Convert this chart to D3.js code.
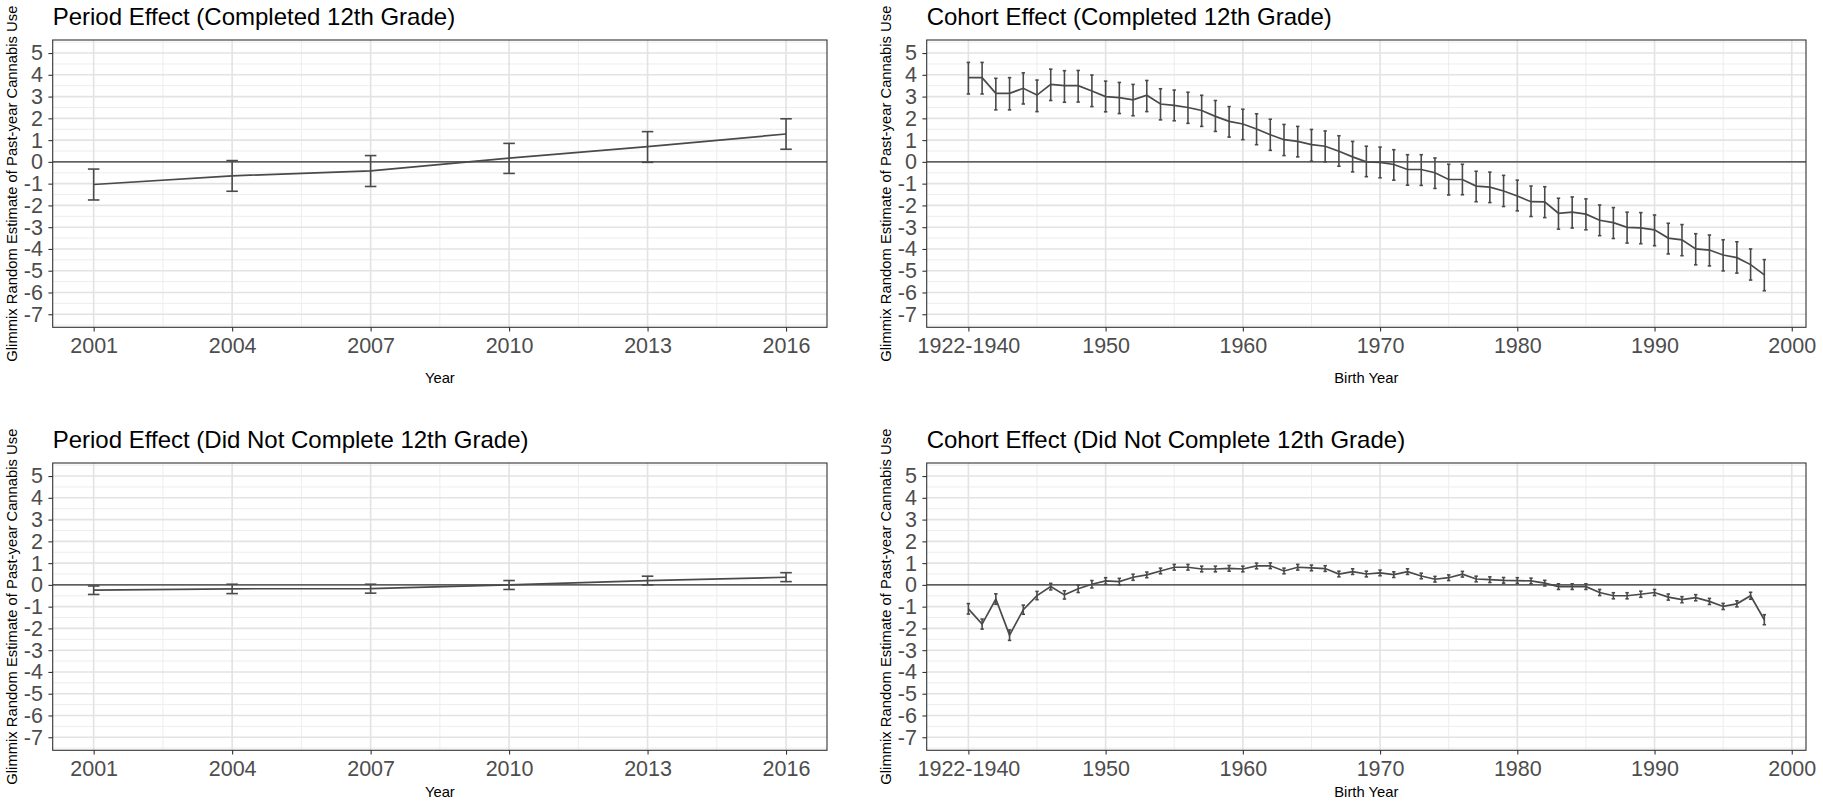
<!DOCTYPE html>
<html><head><meta charset="utf-8">
<script src="https://cdn.jsdelivr.net/npm/d3@7"></script>
<style>
body{margin:0;background:#fff}
svg{display:block}
text{font-family:"Liberation Sans",Arial,Helvetica,sans-serif}
</style>
</head><body>
<svg id="chart" width="1823" height="803"></svg>
<script>
// ---------- DATA ----------
const periodYears = [2001, 2004, 2007, 2010, 2013, 2016];
const periodTickLabels = ["2001", "2004", "2007", "2010", "2013", "2016"];

const periodCompEst = [-1.04, -0.64, -0.41, 0.17, 0.70, 1.28];
const periodCompLo  = [-1.75, -1.35, -1.13, -0.53, -0.02, 0.58];
const periodCompHi  = [-0.33, 0.06, 0.29, 0.85, 1.39, 1.98];

const periodNoEst = [-0.24, -0.18, -0.17, 0.00, 0.20, 0.35];
const periodNoLo  = [-0.44, -0.40, -0.38, -0.21, 0.00, 0.15];
const periodNoHi  = [-0.05, 0.03, 0.03, 0.20, 0.40, 0.56];

const cohortYears = [1940,1941,1942,1943,1944,1945,1946,1947,1948,1949,
  1950,1951,1952,1953,1954,1955,1956,1957,1958,1959,
  1960,1961,1962,1963,1964,1965,1966,1967,1968,1969,
  1970,1971,1972,1973,1974,1975,1976,1977,1978,1979,
  1980,1981,1982,1983,1984,1985,1986,1987,1988,1989,
  1990,1991,1992,1993,1994,1995,1996,1997,1998];
const cohortTicks = [1940, 1950, 1960, 1970, 1980, 1990, 2000];
const cohortTickLabels = ["1922-1940", "1950", "1960", "1970", "1980", "1990", "2000"];

const cohortCompEst = [3.87,3.87,3.15,3.15,3.38,3.07,3.56,3.50,3.50,3.26,
  3.00,2.95,2.85,3.06,2.66,2.60,2.50,2.36,2.09,1.86,
  1.74,1.51,1.25,1.02,0.94,0.79,0.72,0.49,0.23,0.00,
  -0.02,-0.12,-0.35,-0.35,-0.50,-0.81,-0.81,-1.11,-1.16,-1.34,
  -1.57,-1.83,-1.84,-2.36,-2.31,-2.40,-2.68,-2.79,-3.01,-3.03,
  -3.12,-3.50,-3.58,-4.00,-4.05,-4.28,-4.40,-4.72,-5.19];
const cohortCompLo = [3.12,3.12,2.39,2.39,2.66,2.31,2.82,2.74,2.75,2.54,
  2.30,2.22,2.12,2.31,1.93,1.89,1.77,1.63,1.40,1.14,
  1.02,0.79,0.53,0.29,0.23,0.03,0.00,-0.20,-0.46,-0.68,
  -0.73,-0.84,-1.07,-1.08,-1.22,-1.52,-1.51,-1.83,-1.87,-2.05,
  -2.25,-2.51,-2.56,-3.09,-3.04,-3.12,-3.39,-3.52,-3.73,-3.76,
  -3.85,-4.23,-4.31,-4.73,-4.78,-5.01,-5.11,-5.43,-5.92];
const cohortCompHi = [4.57,4.57,3.84,3.87,4.09,3.76,4.26,4.19,4.20,3.99,
  3.71,3.65,3.56,3.74,3.36,3.30,3.20,3.06,2.82,2.54,
  2.42,2.21,1.96,1.72,1.63,1.49,1.42,1.20,0.94,0.72,
  0.68,0.56,0.33,0.33,0.18,-0.11,-0.11,-0.43,-0.47,-0.62,
  -0.84,-1.11,-1.14,-1.67,-1.61,-1.70,-1.98,-2.10,-2.31,-2.33,
  -2.44,-2.82,-2.88,-3.30,-3.36,-3.58,-3.67,-4.00,-4.49];

const cohortNoEst = [-1.10,-1.80,-0.65,-2.31,-1.14,-0.49,-0.08,-0.46,-0.18,0.03,
  0.18,0.15,0.35,0.46,0.64,0.81,0.81,0.73,0.73,0.76,
  0.73,0.87,0.88,0.64,0.81,0.78,0.75,0.50,0.61,0.50,
  0.55,0.47,0.61,0.41,0.26,0.33,0.49,0.27,0.24,0.21,
  0.20,0.18,0.08,-0.08,-0.08,-0.08,-0.35,-0.50,-0.50,-0.43,
  -0.35,-0.56,-0.68,-0.59,-0.76,-0.99,-0.87,-0.50,-1.60];
const cohortNoLo = [-1.34,-2.03,-0.89,-2.55,-1.35,-0.68,-0.23,-0.65,-0.35,-0.14,
  0.03,0.00,0.21,0.33,0.51,0.68,0.68,0.60,0.60,0.63,
  0.60,0.74,0.75,0.51,0.68,0.65,0.62,0.37,0.48,0.37,
  0.42,0.34,0.48,0.28,0.13,0.20,0.36,0.14,0.11,0.08,
  0.07,0.05,-0.05,-0.21,-0.21,-0.21,-0.49,-0.64,-0.64,-0.57,
  -0.49,-0.70,-0.82,-0.73,-0.90,-1.13,-1.01,-0.66,-1.83];
const cohortNoHi = [-0.86,-1.57,-0.41,-2.07,-0.93,-0.30,0.07,-0.27,-0.01,0.20,
  0.33,0.30,0.49,0.59,0.77,0.94,0.94,0.86,0.86,0.89,
  0.86,1.00,1.01,0.77,0.94,0.91,0.88,0.63,0.74,0.63,
  0.68,0.60,0.74,0.54,0.39,0.46,0.62,0.40,0.37,0.34,
  0.33,0.31,0.21,0.05,0.05,0.05,-0.21,-0.36,-0.36,-0.29,
  -0.21,-0.42,-0.54,-0.45,-0.62,-0.85,-0.73,-0.34,-1.37];

const yTicks = [-7,-6,-5,-4,-3,-2,-1,0,1,2,3,4,5];
const yTickLabels = ["-7","-6","-5","-4","-3","-2","-1","0","1","2","3","4","5"];

const yAxisTitle = "Glimmix Random Estimate of Past-year Cannabis Use";

// ---------- DRAWING ----------
const svg = d3.select("#chart");
svg.append("rect").attr("width",1823).attr("height",803).attr("fill","#fff");

const ERR_W = 0.25; // geom_errorbar width (x units)
const yDomain = [-7.6, 5.6];

function midpoints(arr){ const m=[]; for(let i=0;i<arr.length-1;i++) m.push((arr[i]+arr[i+1])/2); return m; }

function expandDomain(xs){
  const lo = d3.min(xs) - ERR_W/2, hi = d3.max(xs) + ERR_W/2, pad = (hi-lo)*0.05;
  return [lo-pad, hi+pad];
}

function drawPanel(p){
  const g = svg.append("g");
  const x = d3.scaleLinear().domain(expandDomain(p.years)).range([p.left, p.right]);
  const y = d3.scaleLinear().domain(yDomain).range([p.bottom, p.top]);

  // minor grid
  const yMinor = midpoints(yTicks).concat([yTicks[0]-0.5, yTicks[yTicks.length-1]+0.5]);
  const xMinor = midpoints(p.xTicks);
  g.selectAll(".hmin").data(yMinor).join("line")
    .attr("x1",p.left).attr("x2",p.right).attr("y1",d=>y(d)).attr("y2",d=>y(d))
    .attr("stroke","#EDEDED").attr("stroke-width",1);
  g.selectAll(".vmin").data(xMinor).join("line")
    .attr("y1",p.top).attr("y2",p.bottom).attr("x1",d=>x(d)).attr("x2",d=>x(d))
    .attr("stroke","#EDEDED").attr("stroke-width",1);
  // major grid
  g.selectAll(".hmaj").data(yTicks).join("line")
    .attr("x1",p.left).attr("x2",p.right).attr("y1",d=>y(d)).attr("y2",d=>y(d))
    .attr("stroke","#E3E3E3").attr("stroke-width",1.6);
  g.selectAll(".vmaj").data(p.xTicks).join("line")
    .attr("y1",p.top).attr("y2",p.bottom).attr("x1",d=>x(d)).attr("x2",d=>x(d))
    .attr("stroke","#E3E3E3").attr("stroke-width",1.6);

  // zero line
  g.append("line").attr("x1",p.left).attr("x2",p.right).attr("y1",y(0)).attr("y2",y(0))
    .attr("stroke","#333").attr("stroke-width",1.3);

  const data = p.years.map((yr,i)=>({yr, est:p.est[i], lo:p.lo[i], hi:p.hi[i]}));
  const col = "#4a4a4a";
  // error bars
  const eb = g.append("g").attr("stroke",col).attr("stroke-width",1.6).attr("fill","none");
  eb.selectAll(".v").data(data).join("line")
    .attr("x1",d=>x(d.yr)).attr("x2",d=>x(d.yr)).attr("y1",d=>y(d.lo)).attr("y2",d=>y(d.hi));
  eb.selectAll(".t").data(data).join("line")
    .attr("x1",d=>x(d.yr-ERR_W/2)).attr("x2",d=>x(d.yr+ERR_W/2)).attr("y1",d=>y(d.hi)).attr("y2",d=>y(d.hi));
  eb.selectAll(".b").data(data).join("line")
    .attr("x1",d=>x(d.yr-ERR_W/2)).attr("x2",d=>x(d.yr+ERR_W/2)).attr("y1",d=>y(d.lo)).attr("y2",d=>y(d.lo));
  // line
  g.append("path").datum(data)
    .attr("d", d3.line().x(d=>x(d.yr)).y(d=>y(d.est)))
    .attr("fill","none").attr("stroke",col).attr("stroke-width",1.7);

  // border
  g.append("rect").attr("x",p.left).attr("y",p.top).attr("width",p.right-p.left).attr("height",p.bottom-p.top)
    .attr("fill","none").attr("stroke","#333").attr("stroke-width",1.1);

  // axes
  const ya = d3.axisLeft(y).tickValues(yTicks).tickSize(4.3).tickPadding(5.5)
    .tickFormat((d,i)=>yTickLabels[i]);
  const yg = g.append("g").attr("transform",`translate(${p.left},0)`).call(ya);
  const xa = d3.axisBottom(x).tickValues(p.xTicks).tickSize(4.3).tickPadding(6.3)
    .tickFormat((d,i)=>p.xTickLabels[i]);
  const xg = g.append("g").attr("transform",`translate(0,${p.bottom})`).call(xa);
  [yg,xg].forEach(a=>{
    a.select(".domain").remove();
    a.selectAll(".tick line").attr("stroke","#333").attr("stroke-width",1.1);
    a.selectAll(".tick text").attr("fill","#4D4D4D").style("font-size","21.5px")
      .style("font-family",'"Liberation Sans",Arial,Helvetica,sans-serif');
  });

  // titles
  g.append("text").attr("x",p.left).attr("y",p.top-15).text(p.title)
    .style("font-size","24px").attr("fill","#000");
  g.append("text").attr("transform",`translate(${p.left-35.7},${(p.top+p.bottom)/2}) rotate(-90)`)
    .attr("text-anchor","middle").text(yAxisTitle).style("font-size","14.8px").attr("fill","#000");
  g.append("text").attr("x",(p.left+p.right)/2).attr("y",p.xTitleY).attr("text-anchor","middle")
    .text(p.xTitle).style("font-size","14.8px").attr("fill","#000");
}

drawPanel({left:52.7,right:827,top:40,bottom:327.3,xTitleY:383,
  years:periodYears, xTicks:periodYears, xTickLabels:periodTickLabels,
  est:periodCompEst, lo:periodCompLo, hi:periodCompHi,
  title:"Period Effect (Completed 12th Grade)", xTitle:"Year"});
drawPanel({left:926.7,right:1806,top:40,bottom:327.3,xTitleY:383,
  years:cohortYears, xTicks:cohortTicks, xTickLabels:cohortTickLabels,
  est:cohortCompEst, lo:cohortCompLo, hi:cohortCompHi,
  title:"Cohort Effect (Completed 12th Grade)", xTitle:"Birth Year"});
drawPanel({left:52.7,right:827,top:463,bottom:750.3,xTitleY:797,
  years:periodYears, xTicks:periodYears, xTickLabels:periodTickLabels,
  est:periodNoEst, lo:periodNoLo, hi:periodNoHi,
  title:"Period Effect (Did Not Complete 12th Grade)", xTitle:"Year"});
drawPanel({left:926.7,right:1806,top:463,bottom:750.3,xTitleY:797,
  years:cohortYears, xTicks:cohortTicks, xTickLabels:cohortTickLabels,
  est:cohortNoEst, lo:cohortNoLo, hi:cohortNoHi,
  title:"Cohort Effect (Did Not Complete 12th Grade)", xTitle:"Birth Year"});
</script>
</body></html>
